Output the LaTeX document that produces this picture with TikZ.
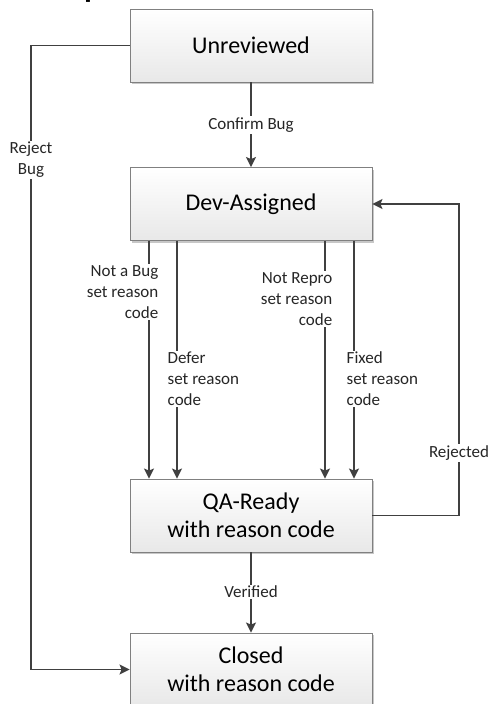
\documentclass[tikz,border=0pt]{standalone}
\usepackage{fontspec}
\setmainfont{Carlito}
\newfontfamily\examplefont{Liberation Sans}
\usetikzlibrary{arrows.meta,shadows}
\begin{document}
\begin{tikzpicture}[x=1pt,y=-1pt,
  statebox/.style={draw=black!50, line width=0.9pt, top color=white, bottom color=black!9,
    minimum width=242pt, minimum height=73pt, align=center, inner sep=0pt,
    font=\fontsize{24}{28}\selectfont,
    drop shadow={shadow xshift=2pt, shadow yshift=-2pt, fill=black!22, opacity=1}},
  conn/.style={draw=black!75, line width=1.6pt, -{Stealth[length=10pt,width=10pt,inset=2pt]}},
  lbl/.style={fill=white, inner sep=1.5pt, font=\fontsize{17}{21}\selectfont, text=black!85}
]
\useasboundingbox (0,0) rectangle (489,704);
\clip (0,0) rectangle (489,704);
\fill[white] (0,0) rectangle (489,704);

\node[anchor=base west, inner sep=0pt, font=\examplefont\bfseries\fontsize{28.5}{30}\selectfont] (title) at (8,-4) {Example};

\node[statebox] (unrev) at (251,45.5) {Unreviewed};
\node[statebox] (dev) at (251,204) {Dev-Assigned};
\node[statebox] (qa) at (251,515.5) {QA-Ready\\with reason code};
\node[statebox] (closed) at (251,669.5) {Closed\\with reason code};

\coordinate (rb) at (31,0);
\coordinate (rj) at (459,0);

\draw[conn] (unrev.south) -- (dev.north);
\draw[conn] (qa.south) -- (closed.north);
\draw[conn] (unrev.west) -- (unrev.west -| rb) -- (closed.west -| rb) -- (closed.west);
\draw[conn] (qa.east) -- (qa.east -| rj) -- (dev.east -| rj) -- (dev.east);

\draw[conn] ([xshift=-102pt]dev.south) -- ([xshift=-102pt]qa.north);
\draw[conn] ([xshift=-74pt]dev.south) -- ([xshift=-74pt]qa.north);
\draw[conn] ([xshift=74pt]dev.south) -- ([xshift=74pt]qa.north);
\draw[conn] ([xshift=103pt]dev.south) -- ([xshift=103pt]qa.north);

\node[lbl] (lconfirm) at (251,125) {Confirm Bug};
\node[lbl] (lverified) at (251,592) {Verified};
\node[lbl, align=center] (lreject) at (31,160) {Reject\\Bug};
\node[lbl, align=center] (lrejected) at (459,453) {Rejected};
\node[lbl, align=right, anchor=east] (lnotbug) at (160,292) {Not a Bug\\set reason\\code};
\node[lbl, align=left, anchor=west] (ldefer) at (166,379) {Defer\\set reason\\code};
\node[lbl, align=right, anchor=east] (lnotrepro) at (334,299) {Not Repro\\set reason\\code};
\node[lbl, align=left, anchor=west] (lfixed) at (345,379) {Fixed\\set reason\\code};
\end{tikzpicture}
\end{document}
